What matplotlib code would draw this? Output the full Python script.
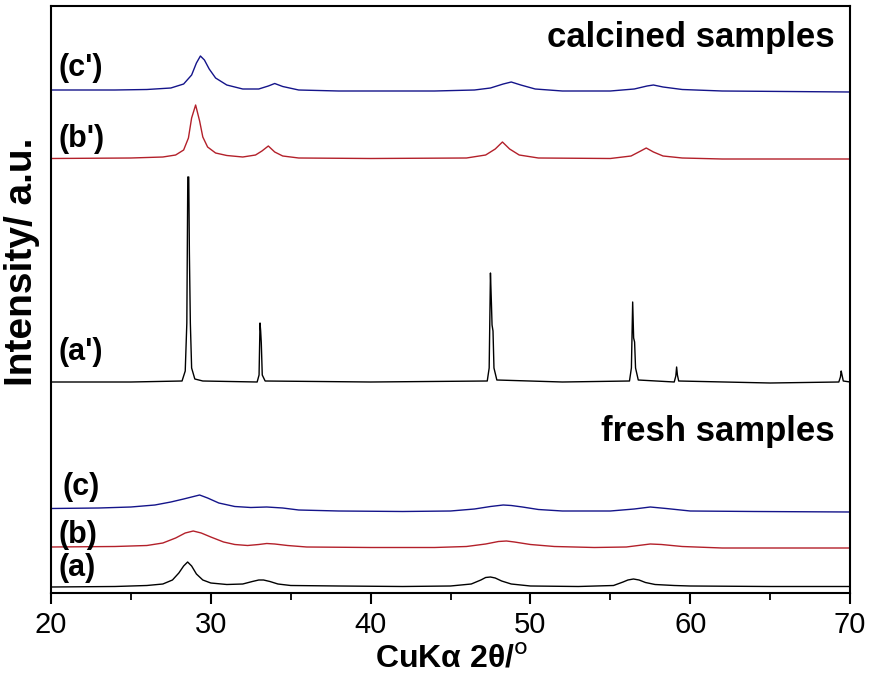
#!/usr/bin/env python3
"""
XRD patterns of fresh and calcined samples (stacked, arbitrary intensity)
"""

import matplotlib.pyplot as plt
from matplotlib.ticker import MultipleLocator

plt.rcParams['font.family'] = ['Liberation Sans', 'DejaVu Sans']

# --- data (2theta in degrees, intensity in a.u., offsets included) ---
# fresh (a), black
a_x = [20, 24, 26, 27, 27.6, 28.0, 28.3, 28.55, 28.8, 29.1, 29.5, 30.0, 31, 32, 32.6, 33.0, 33.3,
       33.7, 34.2, 35, 38, 42, 45, 46.3, 46.9, 47.2, 47.5, 47.8, 48.2, 48.8, 50, 53, 55.2, 55.8,
       56.1, 56.45, 56.8, 57.2, 57.8, 59, 60, 65, 70]
a_y = [6, 6.5, 7.5, 9, 13, 20, 27, 31, 27, 19, 13, 10, 8.5, 9, 11.5, 13, 13,
       11.5, 9, 7.5, 7, 6.5, 7, 9, 13, 15.5, 16, 15, 12, 9, 7, 6.5, 7.5, 11,
       13, 14, 13, 10.5, 8.5, 7.5, 7, 6.5, 6.5]

# fresh (b), red
b_x = [20, 24, 26, 27, 27.8, 28.4, 28.9, 29.4, 30, 30.8, 31.5, 32.3, 33.0, 33.5, 34.0, 34.8, 36,
       40, 44, 46, 47.2, 48.0, 48.5, 49.0, 50, 51.5, 54, 56, 57, 57.5, 58.2, 59.5, 62, 66, 70]
b_y = [46, 46.5, 47.5, 50, 55, 60, 62, 60, 56, 51, 48.5, 47.5, 48.5, 49.5, 49, 47.5, 46,
       45.5, 45.5, 46.5, 49, 51.5, 52, 51, 48.5, 46.5, 45.5, 46, 48, 49, 48.5, 46.5, 45, 45, 45]

# fresh (c), blue
c_x = [20, 23, 25, 26.5, 27.5, 28.3, 28.8, 29.3, 29.8, 30.5, 31.5, 32.5, 33.5, 34.5, 35.5, 38,
       42, 45, 46.5, 47.5, 48.3, 48.8, 49.5, 50.5, 52, 55, 56.5, 57.5, 58.5, 60, 64, 70]
c_y = [84.5, 85, 86, 88, 91, 94, 96, 98, 95, 90, 86.5, 85.5, 86, 85, 83, 82,
       81.5, 82, 84, 86.5, 88, 87.5, 86, 83.5, 82, 82, 84, 86, 84.5, 82, 81.5, 81]

# calcined (a'), black
a2_x = [20, 25, 28.2, 28.4, 28.5, 28.56, 28.62, 28.66, 28.72, 28.8, 29.0, 29.5, 32.9, 33.02,
        33.08, 33.12, 33.16, 33.22, 33.4, 40, 47.3, 47.42, 47.5, 47.56, 47.6, 47.66, 47.72, 47.9,
        52, 56.2, 56.32, 56.4, 56.46, 56.52, 56.58, 56.75, 59.0, 59.1, 59.15, 59.2, 59.28,
        65, 69.3, 69.4, 69.45, 69.5, 69.58, 70]
a2_y = [211, 211, 212, 222, 270, 416, 416, 340, 270, 225, 214, 212, 211, 218,
        270, 262, 250, 218, 212, 211, 212, 225, 320, 290, 268, 262, 225, 213,
        211, 212, 225, 291, 255, 251, 225, 213, 211, 217, 226, 218, 212,
        210, 211, 216, 222, 218, 212, 211]

# calcined (b'), red
b2_x = [20, 25, 27, 27.8, 28.3, 28.6, 28.8, 29.05, 29.3, 29.5, 29.8, 30.3, 31, 32, 32.8, 33.2,
        33.6, 34.0, 34.5, 35.5, 40, 46, 47.2, 47.8, 48.25, 48.7, 49.3, 50.5, 55, 56.3, 56.9,
        57.25, 57.7, 58.3, 59.5, 62, 70]
b2_y = [434.5, 435, 436, 438, 443, 455, 475, 488, 472, 456, 446, 440, 437.5, 436, 438, 442,
        447, 441, 437, 435, 434.5, 435, 438, 444, 451, 444, 438, 435, 434.5, 437, 442,
        445, 441, 437, 435, 434, 434]

# calcined (c'), blue
c2_x = [20, 24, 26, 27.5, 28.3, 28.8, 29.1, 29.35, 29.6, 29.9, 30.3, 31, 32, 33, 33.6, 34.0,
        34.5, 35.5, 38, 44, 46.5, 47.5, 48.3, 48.8, 49.4, 50.3, 52, 55, 56.5, 57.3, 57.7, 58.3,
        59.5, 62, 66, 70]
c2_y = [503, 503, 503.5, 505, 509, 518, 530, 537, 533, 524, 515, 508, 504, 504, 507, 509.5,
        506.5, 503, 502, 502, 503, 505, 509, 511, 508, 504, 502, 502, 504, 507, 508, 506,
        503.5, 502, 501.5, 501]

black = 'black'
red = '#b3202a'
blue = '#14148a'

W, H = 869, 678
fig = plt.figure(figsize=(W / 100, H / 100), dpi=100)
ax = fig.add_axes([51 / W, 1 - 593 / H, (850 - 51) / W, (593 - 5.5) / H])

ax.plot(a_x, a_y, color=black, lw=1.0)
ax.plot(b_x, b_y, color=red, lw=1.0)
ax.plot(c_x, c_y, color=blue, lw=1.0)
ax.plot(a2_x, a2_y, color=black, lw=1.0)
ax.plot(b2_x, b2_y, color=red, lw=1.0)
ax.plot(c2_x, c2_y, color=blue, lw=1.0)

ax.set_xlim(20, 70)
ax.set_ylim(0, 587.5)
ax.set_yticks([])
ax.xaxis.set_major_locator(MultipleLocator(10))
ax.xaxis.set_minor_locator(MultipleLocator(5))
ax.tick_params(axis='x', which='major', direction='out', length=8, width=1.5,
               labelsize=21, pad=5)
ax.tick_params(axis='x', which='minor', direction='out', length=5, width=1.3)
for sp in ax.spines.values():
    sp.set_linewidth(1.5)


def px_text(x, y, s, **kw):
    fig.text(x / W, 1 - y / H, s, transform=fig.transFigure, **kw)


# curve labels
lab = dict(fontsize=22, fontweight='bold', ha='left', va='center')
px_text(59, 68, "(c')", **lab)
px_text(59, 139, "(b')", **lab)
px_text(59, 352, "(a')", **lab)
px_text(62, 487, "(c)", **lab)
px_text(59, 535, "(b)", **lab)
px_text(59, 568, "(a)", **lab)

px_text(835, 38, 'calcined samples', fontsize=25, fontweight='bold', ha='right', va='center')
px_text(835, 432, 'fresh samples', fontsize=25, fontweight='bold', ha='right', va='center')

# axis titles
px_text(452, 659, 'CuK\u03b1 2\u03b8/$^{\\mathrm{o}}$', fontsize=23, fontweight='bold',
        ha='center', va='center')
px_text(22, 262, 'Intensity/ a.u.', fontsize=28, fontweight='bold', rotation=90,
        ha='center', va='center')

plt.savefig('out.png', dpi=100)
plt.close()
